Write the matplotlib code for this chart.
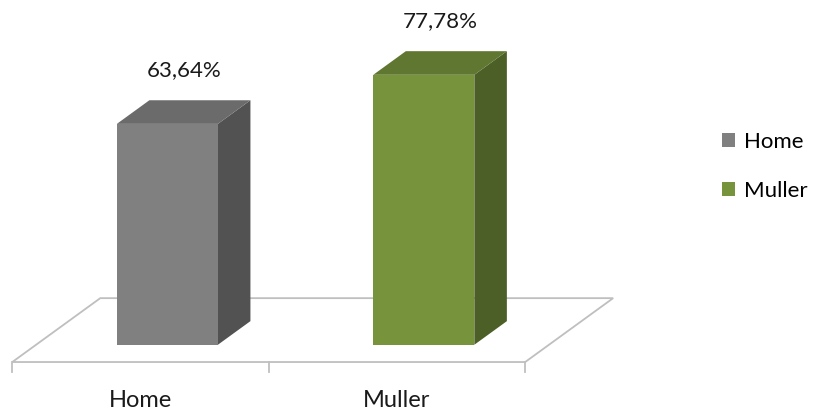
import matplotlib
matplotlib.use("Agg")
import matplotlib.pyplot as plt
from matplotlib.patches import Polygon, Patch

plt.rcParams['font.family'] = ['Lato', 'DejaVu Sans']

categories = ["Home", "Muller"]
values = [63.64, 77.78]
value_labels = ["63,64%", "77,78%"]
series_names = ["Home", "Muller"]

front_colors = ["#808080", "#77933c"]
top_colors = ["#6b6b6b", "#5f7730"]
side_colors = ["#525252", "#4b5f26"]

# oblique projection: depth d in [0, 1] moves right and up
DX = 0.343   # category units per full floor depth
DZ = 18.4    # percent units per full floor depth
BAR_W = 0.394
D0, D1 = 0.27, 0.64
SHIFT = 0.012


def proj(x, z, d):
    return (x + d * DX, z + d * DZ)


fig = plt.figure(figsize=(8.16, 4.12), dpi=100)
ax = fig.add_axes([0, 0, 1, 1])
ax.set_xlim(-0.548, 2.634)
ax.set_ylim(-14.4, 104.3)
ax.axis("off")

n = len(categories)
x_lo, x_hi = -0.5, n - 0.5

# floor
floor = [proj(x_lo, 0, 0), proj(x_hi, 0, 0), proj(x_hi, 0, 1), proj(x_lo, 0, 1)]
ax.add_patch(Polygon(floor, closed=True, facecolor="white",
                     edgecolor="#bfbfbf", lw=1.3, zorder=1))

# tick marks and category labels
for i in range(n + 1):
    xt = x_lo + i
    ax.plot([xt, xt], [0, -2.9], color="#bfbfbf", lw=1.3, zorder=1)
for i, cat in enumerate(categories):
    ax.text(i, -11.0, cat, ha="center", va="center", fontsize=17, color="#1a1a1a")

# bars
for i, v in enumerate(values):
    l = i - BAR_W / 2 + SHIFT
    r = i + BAR_W / 2 + SHIFT
    front = [proj(l, 0, D0), proj(r, 0, D0), proj(r, v, D0), proj(l, v, D0)]
    side = [proj(r, 0, D0), proj(r, 0, D1), proj(r, v, D1), proj(r, v, D0)]
    top = [proj(l, v, D0), proj(r, v, D0), proj(r, v, D1), proj(l, v, D1)]
    ax.add_patch(Polygon(side, closed=True, facecolor=side_colors[i], edgecolor="none", zorder=3))
    ax.add_patch(Polygon(top, closed=True, facecolor=top_colors[i], edgecolor="none", zorder=3))
    ax.add_patch(Polygon(front, closed=True, facecolor=front_colors[i], edgecolor="none", zorder=4))
    lx, lz = proj(i + SHIFT, v, (D0 + D1) / 2)
    ax.text(lx, v + D1 * DZ + 8.6, value_labels[i], ha="center", va="center",
            fontsize=16, color="#1a1a1a")

handles = [Patch(facecolor=c, edgecolor="none") for c in front_colors]
fig.legend(handles, series_names, loc="center left", bbox_to_anchor=(0.885, 0.596),
           frameon=False, fontsize=16, borderpad=0, borderaxespad=0,
           handlelength=0.6, handleheight=0.6,
           handletextpad=0.4, labelspacing=1.32)

fig.savefig("out.png", dpi=100)
